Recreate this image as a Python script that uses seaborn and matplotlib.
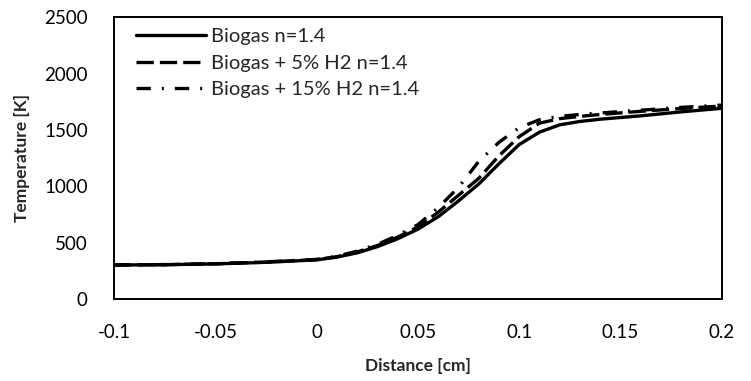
import pandas as pd
import numpy as np
import seaborn as sns
import matplotlib.pyplot as plt

distance = [-0.1, -0.075, -0.05, -0.025, 0, 0.01, 0.02, 0.03, 0.04, 0.05, 0.06,
            0.07, 0.08, 0.09, 0.1, 0.11, 0.12, 0.13, 0.14, 0.16, 0.18, 0.2]
temp_biogas = [302, 305, 312, 326, 348, 372, 410, 465, 535, 620, 730,
               870, 1020, 1200, 1370, 1480, 1545, 1575, 1595, 1625, 1660, 1692]
temp_h2_5 = [302, 305, 313, 328, 350, 376, 418, 475, 550, 640, 770,
             920, 1070, 1270, 1440, 1560, 1600, 1620, 1637, 1665, 1690, 1712]
temp_h2_15 = [303, 306, 314, 330, 352, 380, 425, 485, 565, 660, 810,
              990, 1220, 1390, 1520, 1590, 1620, 1637, 1650, 1675, 1700, 1720]
labels = ['Biogas n=1.4', 'Biogas + 5% H2 n=1.4', 'Biogas + 15% H2 n=1.4']

df = pd.concat([
    pd.DataFrame({'Distance': distance, 'T': t, 'case': lab})
    for t, lab in zip([temp_biogas, temp_h2_5, temp_h2_15], labels)
])

sns.set_style('white')
plt.rcParams['font.family'] = ['Lato', 'DejaVu Sans']

fig = plt.figure(figsize=(7.51, 3.81), dpi=100)
ax = fig.add_axes([0.152, 0.215, 0.809, 0.74])

dashes = {labels[0]: '', labels[1]: (5.2, 1.8), labels[2]: (4.3, 3.3, 0.6, 3.3)}
sns.lineplot(data=df, x='Distance', y='T', hue='case', style='case',
             palette=['black'] * 3, dashes=dashes, linewidth=2.4, ax=ax)

ax.set_xlim(-0.1, 0.2)
ax.set_ylim(0, 2500)
ax.set_xticks([-0.1, -0.05, 0, 0.05, 0.1, 0.15, 0.2])
ax.set_xticklabels(['-0.1', '-0.05', '0', '0.05', '0.1', '0.15', '0.2'])
ax.set_yticks([0, 500, 1000, 1500, 2000, 2500])
ax.tick_params(length=0, labelsize=13.5, colors='black')
ax.tick_params(axis='y', pad=19)
ax.tick_params(axis='x', pad=18)
for s in ax.spines.values():
    s.set_color('black')
    s.set_linewidth(1.4)
ax.set_xlabel('Distance [cm]', fontsize=12.5, fontweight='bold', labelpad=12)
ax.set_ylabel('Temperature [K]', fontsize=12.5, fontweight='bold', labelpad=10)

leg = ax.legend(loc='upper left', bbox_to_anchor=(0.022, 0.99), borderaxespad=0,
                frameon=False, fontsize=14.5, handlelength=3.5,
                handletextpad=0.25, labelspacing=0.47)

fig.savefig('out.png', dpi=100)
